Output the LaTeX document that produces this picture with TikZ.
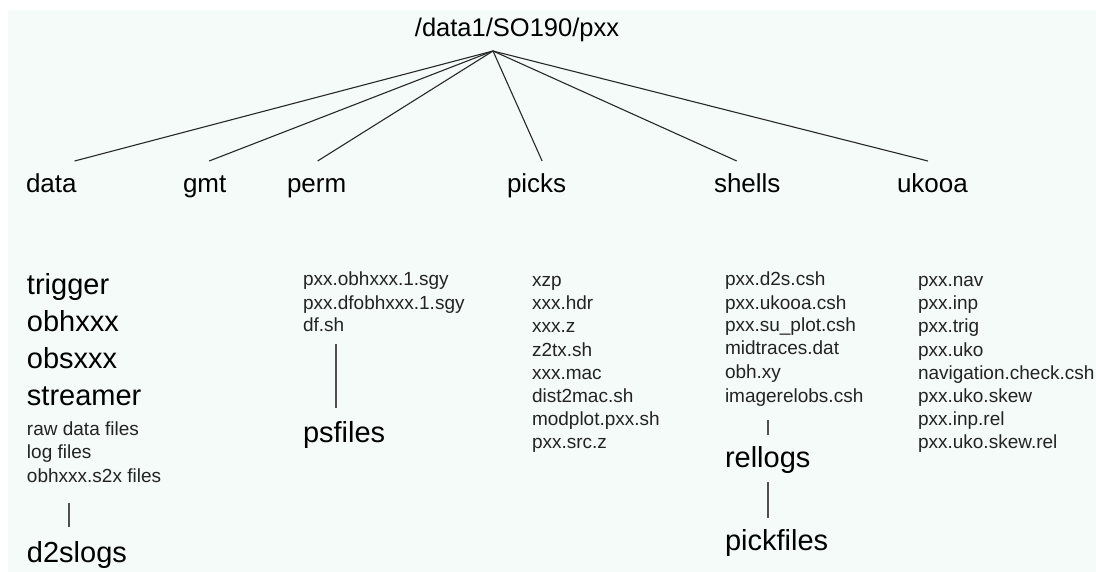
\documentclass[tikz,border=0pt]{standalone}
\usepackage{fontspec}
\setmainfont{Liberation Sans}
\definecolor{bg}{RGB}{245,251,248}
\definecolor{fanc}{RGB}{40,40,40}
\definecolor{vlc}{RGB}{80,80,80}
\definecolor{smallc}{RGB}{35,35,35}
\begin{document}
\begin{tikzpicture}[x=1pt,y=-1pt,
  every node/.style={inner sep=0pt, outer sep=0pt, anchor=base west},
  titlelabel/.style={font=\fontsize{25.5}{30}\selectfont, anchor=base},
  dirlabel/.style={font=\fontsize{26}{30}\selectfont, text height=19pt, text depth=6pt},
  biglabel/.style={font=\fontsize{29}{34}\selectfont, text height=21pt, text depth=6pt},
  smalllabel/.style={font=\fontsize{19}{22}\selectfont, text=smallc, text height=14pt, text depth=4pt},
  fan/.style={draw=fanc, line width=1.1pt},
  vline/.style={draw=vlc, line width=1.4pt}]
\useasboundingbox (0,0) rectangle (1096,572);
\fill[white] (0,0) rectangle (1096,572);
\fill[bg] (8,10) rectangle (1096,572);

% root
\node[titlelabel] (root) at (517,37) {/data1/SO190/pxx};
\coordinate (apex) at (493,51);

% first level
\node[dirlabel] (data)   at (26,193)  {data};
\node[dirlabel] (gmt)    at (183,193) {gmt};
\node[dirlabel] (perm)   at (287,193) {perm};
\node[dirlabel] (picks)  at (507,193) {picks};
\node[dirlabel] (shells) at (714,193) {shells};
\node[dirlabel] (ukooa)  at (897,193) {ukooa};

\draw[fan] (apex) -- ([xshift=-2pt,yshift=13pt]data.north east);
\draw[fan] (apex) -- ([xshift=4.5pt,yshift=13pt]gmt.north);
\draw[fan] (apex) -- ([xshift=1pt,yshift=13pt]perm.north);
\draw[fan] (apex) -- ([xshift=5.5pt,yshift=13pt]picks.north);
\draw[fan] (apex) -- ([xshift=-10.5pt,yshift=13pt]shells.north);
\draw[fan] (apex) -- ([xshift=-4.5pt,yshift=13pt]ukooa.north);

% data column
\node[biglabel] (trigger)  at (27,295) {trigger};
\node[biglabel] (obhxxx)   at (27,332) {obhxxx};
\node[biglabel] (obsxxx)   at (27,368) {obsxxx};
\node[biglabel] (streamer) at (27,405) {streamer};
\node[smalllabel] (raw) at (27,435) {raw data files};
\node[smalllabel] (log) at (27,458) {log files};
\node[smalllabel] (s2x) at (27,482) {obhxxx.s2x files};
\node[biglabel] (d2slogs) at (27,562) {d2slogs};
\draw[vline] ([xshift=42pt,yshift=-17pt]s2x.south west) -- ([xshift=42pt,yshift=14pt]d2slogs.north west);

% perm column
\node[smalllabel] (p1) at (303,286) {pxx.obhxxx.1.sgy};
\node[smalllabel] (p2) at (303,309) {pxx.dfobhxxx.1.sgy};
\node[smalllabel] (p3) at (303,332) {df.sh};
\node[biglabel] (psfiles) at (303,442) {psfiles};
\draw[vline] ([xshift=33pt,yshift=-8pt]p3.south west) -- ([xshift=33pt,yshift=13pt]psfiles.north west);

% picks column
\node[smalllabel] (k1) at (532,287) {xzp};
\node[smalllabel] (k2) at (532,310) {xxx.hdr};
\node[smalllabel] (k3) at (532,333) {xxx.z};
\node[smalllabel] (k4) at (532,356) {z2tx.sh};
\node[smalllabel] (k5) at (532,379) {xxx.mac};
\node[smalllabel] (k6) at (532,402) {dist2mac.sh};
\node[smalllabel] (k7) at (532,425) {modplot.pxx.sh};
\node[smalllabel] (k8) at (532,448) {pxx.src.z};

% shells column
\node[smalllabel] (s1) at (725,286) {pxx.d2s.csh};
\node[smalllabel] (s2) at (725,309) {pxx.ukooa.csh};
\node[smalllabel] (s3) at (725,332) {pxx.su\_plot.csh};
\node[smalllabel] (s4) at (725,355) {midtraces.dat};
\node[smalllabel] (s5) at (725,378) {obh.xy};
\node[smalllabel] (s6) at (725,402) {imagerelobs.csh};
\node[biglabel] (rellogs) at (725,467) {rellogs};
\node[biglabel] (pickfiles) at (725,550) {pickfiles};
\draw[vline] ([xshift=43pt,yshift=-14pt]s6.south west) -- ([xshift=43pt,yshift=11pt]rellogs.north west);
\draw[vline] ([xshift=43pt,yshift=-9pt]rellogs.south west) -- ([xshift=43pt,yshift=11pt]pickfiles.north west);

% ukooa column
\node[smalllabel] (u1) at (918,287) {pxx.nav};
\node[smalllabel] (u2) at (918,310) {pxx.inp};
\node[smalllabel] (u3) at (918,333) {pxx.trig};
\node[smalllabel] (u4) at (918,356) {pxx.uko};
\node[smalllabel] (u5) at (918,379) {navigation.check.csh};
\node[smalllabel] (u6) at (918,402) {pxx.uko.skew};
\node[smalllabel] (u7) at (918,425) {pxx.inp.rel};
\node[smalllabel] (u8) at (918,448) {pxx.uko.skew.rel};
\end{tikzpicture}
\end{document}
